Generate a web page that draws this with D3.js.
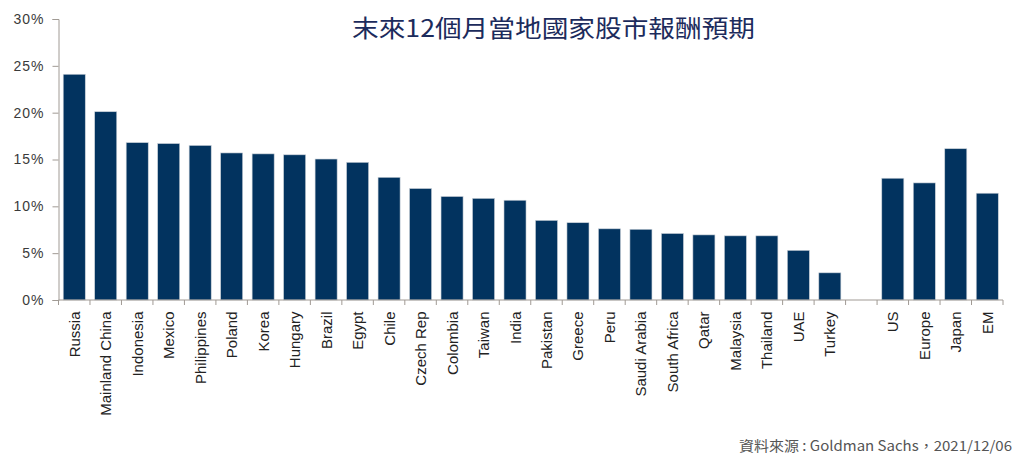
<!DOCTYPE html>
<html>
<head>
<meta charset="utf-8">
<script src="https://cdn.jsdelivr.net/npm/d3@7"></script>
<style>
    body { margin: 0; background: #fff; }
    svg { display: block; }
</style>
</head>
<body>
<div id="chart"></div>
<script>
// emerging markets, sorted as in the source
const emCountries = ['Russia', 'Mainland China', 'Indonesia', 'Mexico', 'Philippines', 'Poland', 'Korea',
    'Hungary', 'Brazil', 'Egypt', 'Chile', 'Czech Rep', 'Colombia', 'Taiwan', 'India', 'Pakistan', 'Greece',
    'Peru', 'Saudi Arabia', 'South Africa', 'Qatar', 'Malaysia', 'Thailand', 'UAE', 'Turkey']
const emValues = [24.1, 20.1, 16.8, 16.7, 16.5, 15.7, 15.6, 15.5, 15.05, 14.7, 13.1, 11.9, 11.05, 10.85, 10.65,
    8.5, 8.25, 7.6, 7.55, 7.1, 6.95, 6.85, 6.85, 5.3, 2.9]

// regional aggregates, shown after a gap
const regions = ['US', 'Europe', 'Japan', 'EM']
const regionValues = [13.0, 12.5, 16.15, 11.4]

const yTicks = [0, 5, 10, 15, 20, 25, 30]

const title = '末來12個月當地國家股市報酬預期'
const source = '資料來源 : Goldman Sachs，2021/12/06'

const width = 1024
const height = 459
const margin = { top: 19, right: 21, bottom: 159, left: 58.5 }

const GAP = ' '
const data = emCountries.map((d, i) => ({ name: d, value: emValues[i] }))
    .concat([{ name: GAP, value: null }])
    .concat(regions.map((d, i) => ({ name: d, value: regionValues[i] })))

const svg = d3.select('#chart').append('svg')
    .attr('width', width)
    .attr('height', height)

const x = d3.scaleBand()
    .domain(data.map(d => d.name))
    .range([margin.left, width - margin.right])
    .paddingInner(0.3)
    .paddingOuter(0.15)

const y = d3.scaleLinear()
    .domain([0, 30])
    .range([height - margin.bottom, margin.top])

const axisColor = '#a09a94'

// bars
svg.append('g')
    .selectAll('rect')
    .data(data.filter(d => d.value !== null))
    .join('rect')
    .attr('x', d => x(d.name))
    .attr('width', x.bandwidth())
    .attr('y', d => y(d.value))
    .attr('height', d => y(0) - y(d.value))
    .attr('fill', '#02335f')
    .attr('stroke', '#c9d0d8')
    .attr('stroke-width', 0.6)

// y axis
const yAxis = svg.append('g')
    .attr('transform', `translate(${margin.left}, 0)`)
    .call(d3.axisLeft(y).tickValues(yTicks).tickFormat(d => d + '%').tickSize(6).tickPadding(8))

yAxis.select('.domain').attr('stroke', axisColor)
yAxis.selectAll('.tick line').attr('stroke', axisColor)
yAxis.selectAll('.tick text')
    .attr('font-family', '"Liberation Sans", Arial, sans-serif')
    .attr('font-size', '14px')
    .attr('letter-spacing', '1px')
    .attr('fill', '#3a3a3a')

// x axis: line plus ticks on the slot boundaries
const step = x.step()
const x0 = x(data[0].name) - x.paddingOuter() * step
const xAxis = svg.append('g')

xAxis.append('line')
    .attr('x1', margin.left)
    .attr('x2', width - margin.right)
    .attr('y1', y(0))
    .attr('y2', y(0))
    .attr('stroke', axisColor)

xAxis.selectAll('line.tick')
    .data(d3.range(data.length + 1))
    .join('line')
    .classed('tick', true)
    .attr('x1', i => x0 + i * step)
    .attr('x2', i => x0 + i * step)
    .attr('y1', y(0))
    .attr('y2', y(0) + 5)
    .attr('stroke', axisColor)

xAxis.selectAll('text')
    .data(data.filter(d => d.name !== GAP))
    .join('text')
    .attr('transform', d => `translate(${x(d.name) + x.bandwidth() / 2 + 5.5}, ${y(0) + 11.5}) rotate(-90)`)
    .attr('text-anchor', 'end')
    .attr('font-family', '"Liberation Sans", Arial, sans-serif')
    .attr('font-size', '15px')
    .attr('fill', '#222')
    .text(d => d.name)

// title
svg.append('text')
    .attr('x', 553.5)
    .attr('y', 37)
    .attr('text-anchor', 'middle')
    .attr('font-family', '"Noto Sans CJK TC", "Noto Sans", sans-serif')
    .attr('font-size', '24px')
    .attr('font-weight', 400)
    .attr('fill', '#1c2b5c')
    .attr('textLength', 403)
    .attr('lengthAdjust', 'spacingAndGlyphs')
    .text(title)

// source note
svg.append('text')
    .attr('x', 1012)
    .attr('y', 451)
    .attr('text-anchor', 'end')
    .attr('font-family', '"Noto Sans CJK TC", "Noto Sans", sans-serif')
    .attr('font-size', '14px')
    .attr('fill', '#555')
    .attr('textLength', 273)
    .attr('lengthAdjust', 'spacingAndGlyphs')
    .text(source)
</script>
</body>
</html>
